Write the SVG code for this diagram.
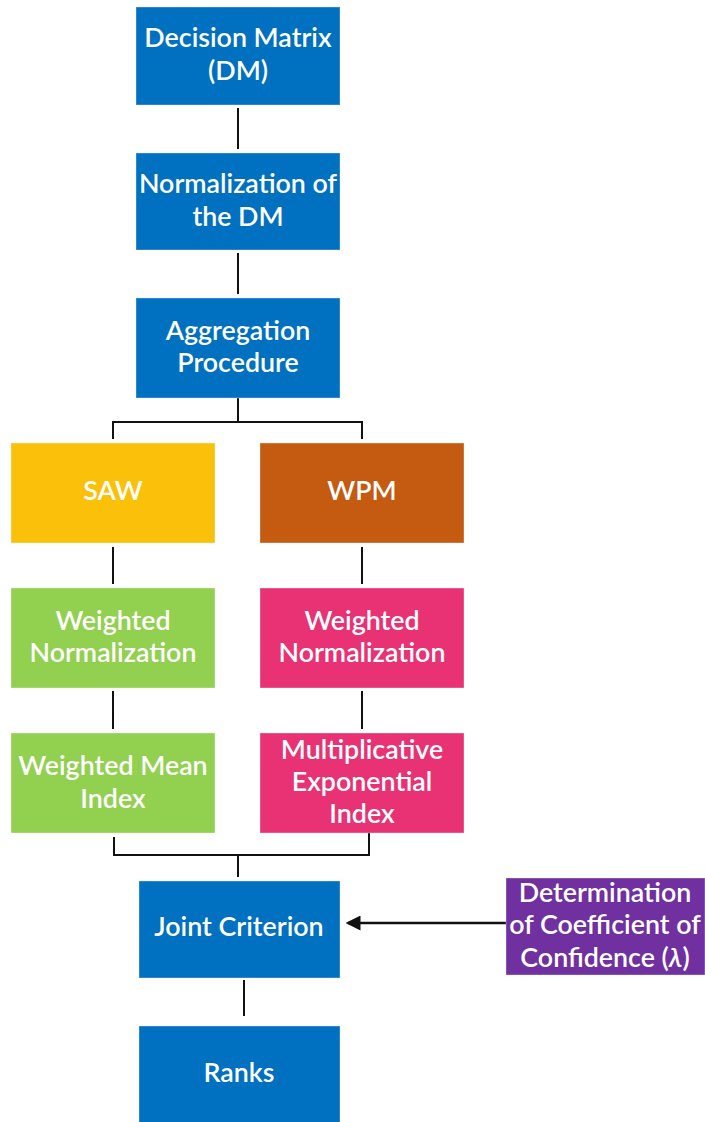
<svg xmlns="http://www.w3.org/2000/svg" width="705" height="1122" viewBox="0 0 705 1122">
  <style>
    .box { stroke: #ffffff; stroke-opacity: 0.35; stroke-width: 1; }
    .blue { fill: #0070C0; }
    .yellow { fill: #FBC10A; }
    .orange { fill: #C55A11; }
    .green { fill: #92D050; }
    .pink { fill: #E83273; }
    .purple { fill: #7030A0; }
    .label { font-family: Lato, "Liberation Sans", sans-serif; font-size: 26.8px; font-weight: 600; fill: #ffffff; text-anchor: middle; dominant-baseline: central; }
    .wire { fill: none; stroke: #111111; stroke-width: 2; }
    .feed { fill: none; stroke: #111111; stroke-width: 2.5; }
  </style>
  <defs>
    <marker id="head" markerWidth="6" markerHeight="6" refX="5" refY="3" orient="auto" markerUnits="strokeWidth">
      <path d="M0,0 L6,3 L0,6 Z" fill="#111111"/>
    </marker>
  </defs>

  <rect width="705" height="1122" fill="#ffffff"/>

  <!-- connectors -->
  <g id="connectors">
    <path class="wire" d="M238,108 V149"/>
    <path class="wire" d="M238,253 V294"/>
    <path class="wire" d="M238,398 V422 M113,439 V422 H362 V439"/>
    <path class="wire" d="M113,547 V584"/>
    <path class="wire" d="M362,547 V584"/>
    <path class="wire" d="M113,691 V729"/>
    <path class="wire" d="M362,691 V729"/>
    <path class="wire" d="M114,837 V855 H369 V833 M238,855 V877"/>
    <path class="wire" d="M244,980 V1016"/>
    <path class="feed" d="M508,923 H348" marker-end="url(#head)"/>
  </g>

  <g id="decision-matrix">
    <rect class="box blue" x="136" y="7" width="204" height="98"/>
    <text class="label" x="238" y="37">Decision Matrix</text>
    <text class="label" x="238" y="70">(DM)</text>
  </g>

  <g id="normalization">
    <rect class="box blue" x="136" y="153" width="204" height="97"/>
    <text class="label" x="238" y="183">Normalization of</text>
    <text class="label" x="238" y="216">the DM</text>
  </g>

  <g id="aggregation">
    <rect class="box blue" x="136" y="298" width="204" height="100"/>
    <text class="label" x="238" y="330">Aggregation</text>
    <text class="label" x="238" y="362">Procedure</text>
  </g>

  <g id="saw">
    <rect class="box yellow" x="11" y="443" width="204" height="100"/>
    <text class="label" x="113" y="490">SAW</text>
  </g>

  <g id="wpm">
    <rect class="box orange" x="260" y="443" width="204" height="100"/>
    <text class="label" x="362" y="490">WPM</text>
  </g>

  <g id="saw-weighted-normalization">
    <rect class="box green" x="11" y="588" width="204" height="100"/>
    <text class="label" x="113" y="620">Weighted</text>
    <text class="label" x="113" y="652">Normalization</text>
  </g>

  <g id="wpm-weighted-normalization">
    <rect class="box pink" x="260" y="588" width="204" height="100"/>
    <text class="label" x="362" y="620">Weighted</text>
    <text class="label" x="362" y="652">Normalization</text>
  </g>

  <g id="weighted-mean-index">
    <rect class="box green" x="11" y="733" width="204" height="100"/>
    <text class="label" x="113" y="765">Weighted Mean</text>
    <text class="label" x="113" y="798">Index</text>
  </g>

  <g id="multiplicative-exponential-index">
    <rect class="box pink" x="260" y="733" width="204" height="100"/>
    <text class="label" x="362" y="749">Multiplicative</text>
    <text class="label" x="362" y="781">Exponential</text>
    <text class="label" x="362" y="813">Index</text>
  </g>

  <g id="joint-criterion">
    <rect class="box blue" x="139" y="881" width="201" height="97"/>
    <text class="label" x="239" y="926">Joint Criterion</text>
  </g>

  <g id="ranks">
    <rect class="box blue" x="139" y="1026" width="201" height="97"/>
    <text class="label" x="239" y="1072">Ranks</text>
  </g>

  <g id="confidence">
    <rect class="box purple" x="506" y="878" width="199" height="97"/>
    <text class="label" x="605" y="892">Determination</text>
    <text class="label" x="605" y="924">of Coefficient of</text>
    <text class="label" x="605" y="957">Confidence (<tspan font-style="italic">λ</tspan>)</text>
  </g>
</svg>
